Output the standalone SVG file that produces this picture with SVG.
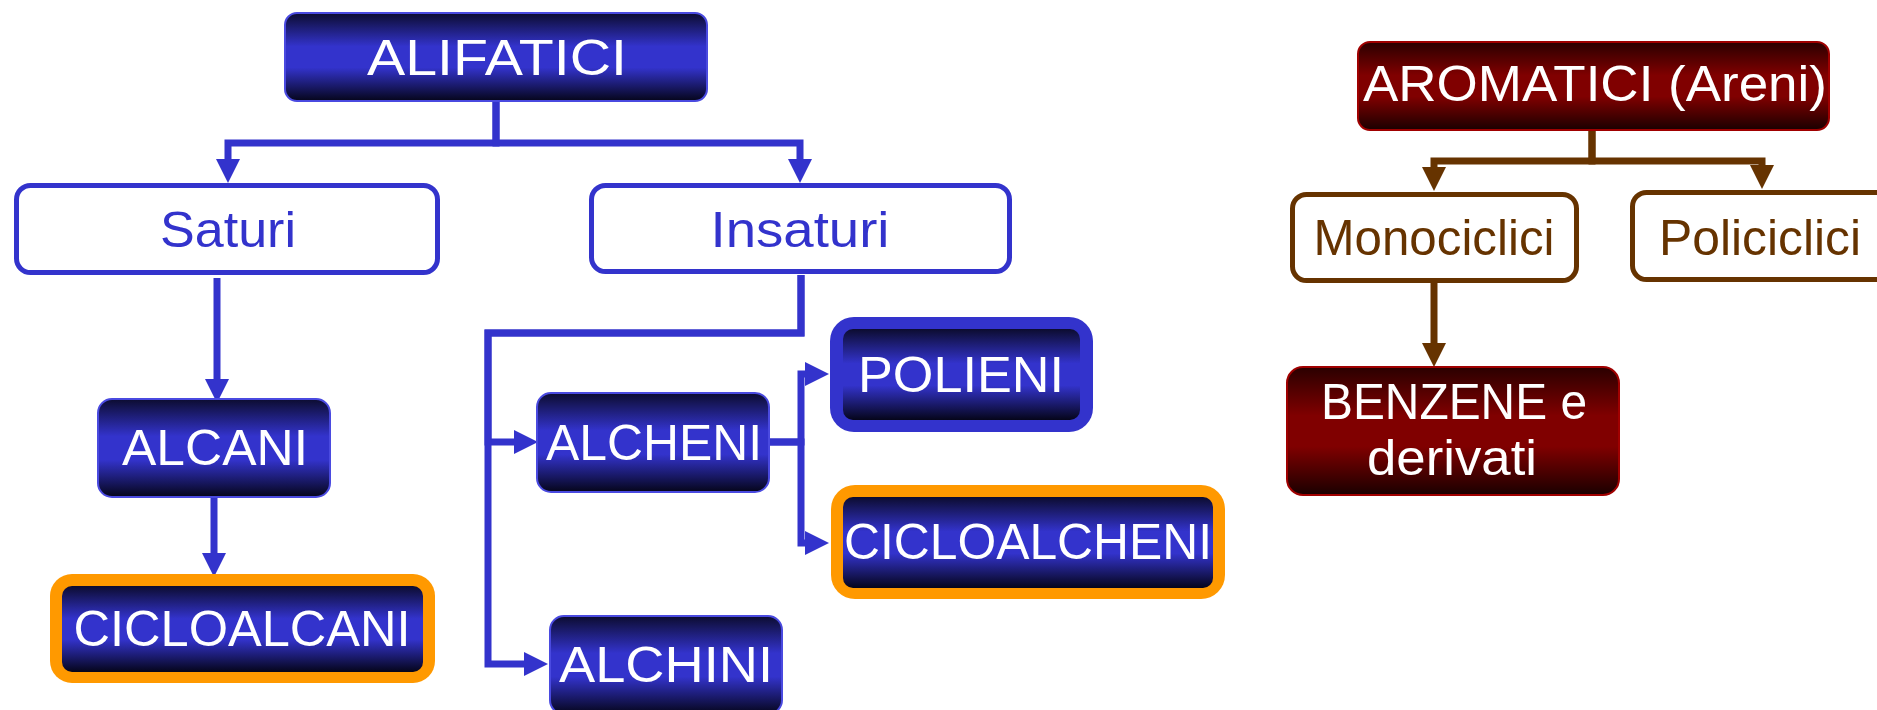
<svg xmlns="http://www.w3.org/2000/svg" width="1877" height="710" viewBox="0 0 1877 710">
<defs>
<linearGradient id="blueG" x1="0" y1="0" x2="0" y2="1">
<stop offset="0" stop-color="#0c0c30"/>
<stop offset="0.38" stop-color="#3333cc"/>
<stop offset="0.62" stop-color="#3333cc"/>
<stop offset="1" stop-color="#05051a"/>
</linearGradient>
<linearGradient id="redG" x1="0" y1="0" x2="0" y2="1">
<stop offset="0" stop-color="#2a0000"/>
<stop offset="0.38" stop-color="#800000"/>
<stop offset="0.62" stop-color="#800000"/>
<stop offset="1" stop-color="#1a0000"/>
</linearGradient>
<marker id="ab" markerUnits="userSpaceOnUse" markerWidth="24" markerHeight="24" refX="0" refY="12" orient="auto">
<path d="M0,0 L24,12 L0,24 z" fill="#3333cc"/>
</marker>
<marker id="ar" markerUnits="userSpaceOnUse" markerWidth="24" markerHeight="24" refX="0" refY="12" orient="auto">
<path d="M0,0 L24,12 L0,24 z" fill="#663300"/>
</marker>
</defs>
<style>
.lb{fill:none;stroke:#3333cc;stroke-width:7;marker-end:url(#ab)}
.lr{fill:none;stroke:#663300;stroke-width:7;marker-end:url(#ar)}
.dk{fill:url(#blueG);stroke:#4a4ae0;stroke-width:2}
.rd{fill:url(#redG);stroke:#a00000;stroke-width:2}
.wb{fill:#fff;stroke:#3333cc;stroke-width:5}
.wr{fill:#fff;stroke:#663300;stroke-width:5}
.inr{fill:url(#blueG)}
text{font-family:"Liberation Sans",Arial,sans-serif;font-size:50px;text-anchor:middle}
.tw{fill:#fff}
.tb{fill:#3333cc}
.tr{fill:#663300}
</style>
<g id="connectors">
<path class="lb" d="M496,101 V143 H228 V159"/>
<path class="lb" d="M496,101 V143 H800 V159"/>
<path class="lb" d="M217,278 V379"/>
<path class="lb" d="M214,489 V553"/>
<path class="lb" d="M801,275 V333 H488 V442 H514"/>
<path class="lb" d="M801,275 V333 H488 V664 H524"/>
<path class="lb" d="M769,442 H801 V374 H805"/>
<path class="lb" d="M769,442 H801 V543 H805"/>
<path class="lr" d="M1592,130 V161 H1434 V167"/>
<path class="lr" d="M1592,130 V161 H1762 V165"/>
<path class="lr" d="M1434,283 V343"/>
</g>
<g id="alifatici">
<rect class="dk" x="285" y="13" width="422" height="88" rx="12"/>
<text class="tw" x="497" y="75" textLength="260" lengthAdjust="spacingAndGlyphs">ALIFATICI</text>
</g>
<g id="saturi">
<rect class="wb" x="16.5" y="185.5" width="421" height="87" rx="14"/>
<text class="tb" x="228" y="247" textLength="136" lengthAdjust="spacingAndGlyphs">Saturi</text>
</g>
<g id="insaturi">
<rect class="wb" x="591.5" y="185.5" width="418" height="86" rx="14"/>
<text class="tb" x="800" y="247" textLength="179" lengthAdjust="spacingAndGlyphs">Insaturi</text>
</g>
<g id="alcani">
<rect class="dk" x="98" y="399" width="232" height="98" rx="14"/>
<text class="tw" x="215" y="465" textLength="186" lengthAdjust="spacingAndGlyphs">ALCANI</text>
</g>
<g id="cicloalcani">
<rect x="50" y="574" width="385" height="109" rx="22" fill="#ff9900"/>
<rect class="inr" x="62" y="586" width="361" height="86" rx="10"/>
<text class="tw" x="242" y="646" textLength="337" lengthAdjust="spacingAndGlyphs">CICLOALCANI</text>
</g>
<g id="alcheni">
<rect class="dk" x="537" y="393" width="232" height="99" rx="14"/>
<text class="tw" x="654" y="460" textLength="216" lengthAdjust="spacingAndGlyphs">ALCHENI</text>
</g>
<g id="polieni">
<rect x="830" y="317" width="263" height="115" rx="24" fill="#3333cc"/>
<rect class="inr" x="843" y="329" width="237" height="91" rx="10"/>
<text class="tw" x="961" y="392" textLength="206" lengthAdjust="spacingAndGlyphs">POLIENI</text>
</g>
<g id="cicloalcheni">
<rect x="831" y="485" width="394" height="114" rx="24" fill="#ff9900"/>
<rect class="inr" x="843" y="497" width="370" height="91" rx="10"/>
<text class="tw" x="1028" y="559" textLength="368" lengthAdjust="spacingAndGlyphs">CICLOALCHENI</text>
</g>
<g id="alchini">
<rect class="dk" x="550" y="616" width="232" height="98" rx="14"/>
<text class="tw" x="666" y="682" textLength="214" lengthAdjust="spacingAndGlyphs">ALCHINI</text>
</g>
<g id="aromatici">
<rect class="rd" x="1358" y="42" width="471" height="88" rx="12"/>
<text class="tw" x="1595" y="101" textLength="464" lengthAdjust="spacingAndGlyphs">AROMATICI (Areni)</text>
</g>
<g id="monociclici">
<rect class="wr" x="1292.5" y="194.5" width="284" height="86" rx="14"/>
<text class="tr" x="1434" y="255" textLength="241" lengthAdjust="spacingAndGlyphs">Monociclici</text>
</g>
<g id="policiclici">
<rect class="wr" x="1632.5" y="192.5" width="270" height="87" rx="14"/>
<text class="tr" x="1760" y="255" textLength="202" lengthAdjust="spacingAndGlyphs">Policiclici</text>
</g>
<g id="benzene">
<rect class="rd" x="1287" y="367" width="332" height="128" rx="16"/>
<text class="tw" x="1454" y="419" textLength="266" lengthAdjust="spacingAndGlyphs">BENZENE e</text>
<text class="tw" x="1452" y="475" textLength="170" lengthAdjust="spacingAndGlyphs">derivati</text>
</g>
</svg>
